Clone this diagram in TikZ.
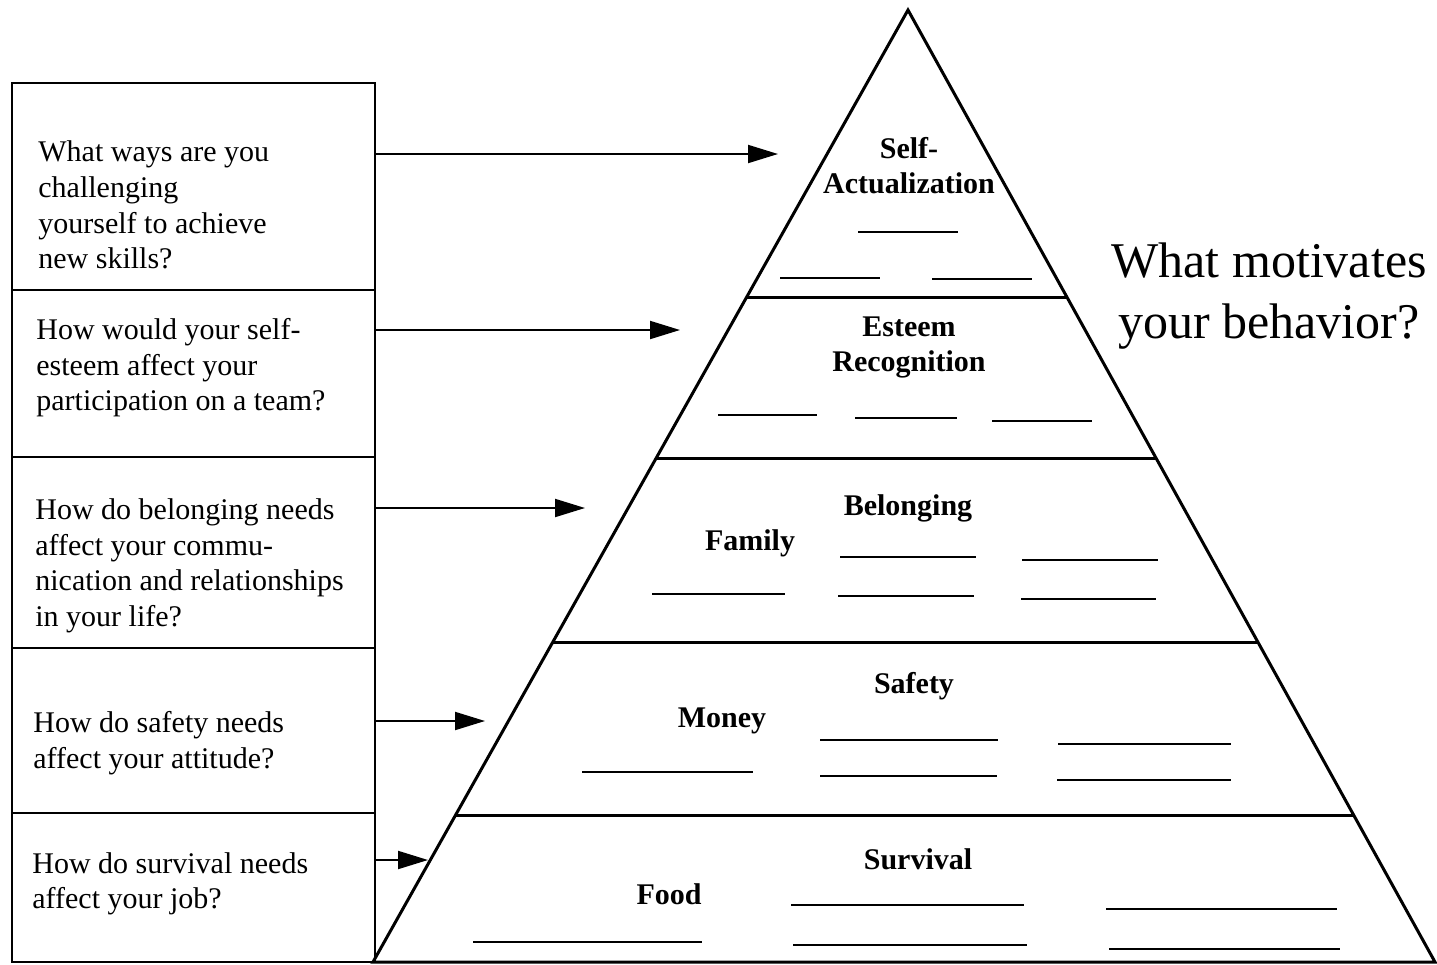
\documentclass[tikz,border=0pt]{standalone}
\usepackage{fontspec}
\setmainfont{Liberation Serif}
\usetikzlibrary{arrows.meta,calc}
\begin{document}
\begin{tikzpicture}[x=0.5pt,y=-0.5pt,
  pyr/.style={line width=1.5pt},
  boxline/.style={line width=1pt},
  blank/.style={line width=1pt},
  arr/.style={line width=1pt,-{Triangle[length=15pt,width=9pt]}},
  q/.style={anchor=west,align=left,inner sep=0pt,font=\fontsize{15}{17.8}\selectfont},
  lvl/.style={inner sep=0pt,font=\fontsize{15}{17.5}\selectfont\bfseries,align=center},
  ttl/.style={inner sep=0pt,font=\fontsize{25}{30.5}\selectfont,align=center}]
\useasboundingbox (0,0) rectangle (1437,965);
% question column
\draw[boxline] (12,83) rectangle (375,962);
\foreach \yy in {290,457,648,813} \draw[boxline] (12,\yy) -- (375,\yy);
\node[q] (q1) at (38,205) {What ways are you\\challenging\\yourself to achieve\\new skills?};
\node[q] (q2) at (36,368) {How would your self-\\esteem affect your\\participation on a team?};
\node[q] (q3) at (35,566) {How do belonging needs\\affect your commu-\\nication and relationships\\in your life?};
\node[q] (q4) at (33,743) {How do safety needs\\affect your attitude?};
\node[q] (q5) at (32,884) {How do survival needs\\affect your job?};
% pyramid
\coordinate (apex) at (908,10);
\coordinate (bl) at (373,962);
\coordinate (br) at (1435,962);
\draw[pyr,line join=miter] (bl) -- (apex) -- (br) -- cycle;
\foreach \t in {0.3025,0.4706,0.6639,0.8456}
  \draw[pyr] ($(apex)!\t!(bl)$) -- ($(apex)!\t!(br)$);
% arrows
\coordinate (a1s) at (375,154); \coordinate (a1e) at (778,154);
\coordinate (a2s) at (375,330); \coordinate (a2e) at (680,330);
\coordinate (a3s) at (375,508); \coordinate (a3e) at (585,508);
\coordinate (a4s) at (375,721); \coordinate (a4e) at (485,721);
\coordinate (a5s) at (375,860); \coordinate (a5e) at (428,860);
\draw[arr] (a1s) -- (a1e);
\draw[arr] (a2s) -- (a2e);
\draw[arr] (a3s) -- (a3e);
\draw[arr] (a4s) -- (a4e);
\draw[arr] (a5s) -- (a5e);
% level labels
\node[lvl] (l1) at (909,166) {Self-\\Actualization};
\node[lvl] (l2) at (909,347) {Esteem\\Recognition};
\node[lvl] (l3) at (908,508) {Belonging};
\node[lvl] (l3b) at (750,543) {Family};
\node[lvl] (l4) at (914,686) {Safety};
\node[lvl] (l4b) at (722,721) {Money};
\node[lvl] (l5) at (918,859) {Survival};
\node[lvl] (l5b) at (669,894) {Food};
% blanks
\draw[blank] (858,232) -- (958,232);
\draw[blank] (780,278) -- (880,278);
\draw[blank] (932,279) -- (1032,279);
\draw[blank] (718,415) -- (817,415);
\draw[blank] (855,418) -- (957,418);
\draw[blank] (992,421) -- (1092,421);
\draw[blank] (840,557) -- (976,557);
\draw[blank] (1022,560) -- (1158,560);
\draw[blank] (652,594) -- (785,594);
\draw[blank] (838,596) -- (974,596);
\draw[blank] (1021,599) -- (1156,599);
\draw[blank] (820,740) -- (998,740);
\draw[blank] (1058,744) -- (1231,744);
\draw[blank] (582,772) -- (753,772);
\draw[blank] (820,776) -- (997,776);
\draw[blank] (1057,780) -- (1231,780);
\draw[blank] (791,905) -- (1024,905);
\draw[blank] (1106,909) -- (1337,909);
\draw[blank] (473,942) -- (702,942);
\draw[blank] (793,945) -- (1027,945);
\draw[blank] (1109,949) -- (1340,949);
% title
\node[ttl] (t) at (1269,296) {What motivates\\your behavior?};
\end{tikzpicture}
\end{document}
